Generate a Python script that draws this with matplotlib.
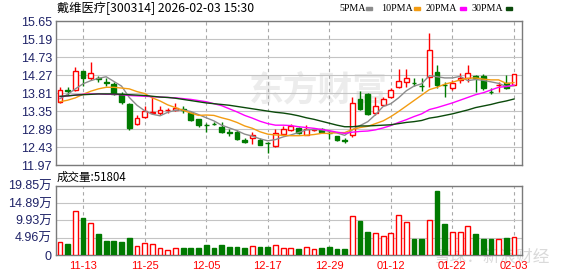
import matplotlib

matplotlib.use("Agg")

import matplotlib.pyplot as plt
import numpy as np

plt.rcParams["font.family"] = ["Noto Sans CJK SC", "DejaVu Sans"]

TITLE = "戴维医疗[300314] 2026-02-03 15:30"

dates = [
    "11-10", "11-11", "11-12", "11-13", "11-14", "11-17", "11-18", "11-19", "11-20", "11-21",
    "11-24", "11-25", "11-26", "11-27", "11-28", "12-01", "12-02", "12-03", "12-04", "12-05",
    "12-08", "12-09", "12-10", "12-11", "12-12", "12-15", "12-16", "12-17", "12-18", "12-19",
    "12-22", "12-23", "12-24", "12-25", "12-26", "12-29", "12-30", "12-31", "01-05", "01-06",
    "01-07", "01-08", "01-09", "01-12", "01-13", "01-14", "01-15", "01-16", "01-19", "01-20",
    "01-21", "01-22", "01-23", "01-26", "01-27", "01-28", "01-29", "01-30", "02-02", "02-03",
]

opens = [
    13.59, 13.88, 13.89, 14.37, 14.19, 14.19, 14.09, 14.04, 13.78, 13.54,
    13.01, 13.21, 13.31, 13.31, 13.37, 13.37, 13.40, 13.30, 13.14, 13.00,
    13.02, 12.95, 12.81, 12.82, 12.62, 12.66, 12.62, 12.54, 12.45, 12.76,
    12.86, 12.91, 12.75, 12.87, 12.90, 12.79, 12.71, 12.60, 12.73, 13.65,
    13.80, 13.29, 13.50, 13.70, 13.97, 14.10, 14.07, 14.00, 14.23, 14.36,
    14.03, 13.93, 14.14, 14.20, 14.26, 14.25, 13.85, 14.01, 14.06, 14.03,
]
highs = [
    13.96, 13.96, 14.47, 14.37, 14.60, 14.25, 14.19, 14.10, 13.83, 13.57,
    13.25, 13.47, 13.72, 13.48, 13.42, 13.57, 13.48, 13.33, 13.15, 13.05,
    13.06, 13.06, 12.88, 12.86, 12.65, 12.82, 12.66, 12.56, 12.89, 12.98,
    13.03, 12.94, 12.99, 12.92, 12.93, 12.85, 12.72, 12.65, 13.72, 13.86,
    13.81, 13.72, 13.72, 13.93, 14.44, 14.42, 14.21, 14.20, 15.36, 14.53,
    14.09, 14.14, 14.32, 14.53, 14.27, 14.30, 13.93, 14.10, 14.27, 14.29,
]
lows = [
    13.56, 13.76, 13.86, 14.00, 14.15, 14.10, 14.00, 13.76, 13.52, 12.86,
    12.99, 13.17, 13.30, 13.25, 13.31, 13.36, 13.29, 13.10, 12.95, 12.82,
    12.99, 12.80, 12.71, 12.60, 12.54, 12.52, 12.48, 12.28, 12.43, 12.74,
    12.84, 12.77, 12.73, 12.85, 12.78, 12.63, 12.59, 12.54, 12.69, 13.37,
    13.25, 13.25, 13.49, 13.68, 13.95, 13.97, 14.00, 13.87, 13.97, 13.93,
    13.72, 13.89, 14.08, 14.10, 13.84, 13.90, 13.80, 13.84, 13.92, 14.01,
]
closes = [
    13.89, 13.87, 14.37, 14.21, 14.32, 14.17, 14.07, 13.78, 13.59, 12.91,
    13.17, 13.36, 13.32, 13.37, 13.38, 13.42, 13.39, 13.13, 12.99, 12.99,
    13.01, 12.82, 12.80, 12.63, 12.55, 12.75, 12.49, 12.53, 12.80, 12.90,
    12.97, 12.79, 12.88, 12.88, 12.82, 12.78, 12.60, 12.59, 13.55, 13.40,
    13.27, 13.48, 13.67, 13.89, 14.13, 14.19, 14.06, 13.99, 14.91, 14.02,
    14.02, 14.06, 14.21, 14.32, 14.20, 13.93, 13.84, 14.02, 13.93, 14.29,
]
volumes = [
    38100, 31500, 126000, 107000, 92600, 60200, 41100, 41100, 38100, 49700,
    25800, 35300, 31500, 19100, 14300, 19100, 21000, 21000, 21000, 28600,
    19100, 28600, 22900, 22900, 20000, 25800, 22900, 22900, 27700, 20000,
    19100, 17200, 22000, 16200, 20000, 22900, 17200, 17200, 112000, 97400,
    65900, 63000, 54400, 63000, 114600, 94500, 45800, 45800, 100000, 183000,
    88800, 65900, 65900, 83100, 60200, 45800, 45800, 45800, 48700, 51804,
]

ma5 = [
    13.67, 13.78, 13.92, 14.05, 14.13, 14.19, 14.23, 14.11, 13.99, 13.70,
    13.50, 13.36, 13.27, 13.23, 13.32, 13.37, 13.38, 13.34, 13.26, 13.18,
    13.10, 12.99, 12.92, 12.85, 12.76, 12.71, 12.64, 12.59, 12.62, 12.69,
    12.74, 12.80, 12.87, 12.88, 12.87, 12.83, 12.79, 12.73, 12.87, 12.98,
    13.08, 13.26, 13.47, 13.54, 13.69, 13.87, 13.99, 14.05, 14.26, 14.23,
    14.20, 14.20, 14.24, 14.13, 14.16, 14.14, 14.10, 14.06, 13.98, 14.00,
]
ma10 = [
    13.59, 13.63, 13.69, 13.78, 13.86, 13.92, 13.96, 13.96, 13.94, 13.92,
    13.85, 13.80, 13.69, 13.61, 13.51, 13.44, 13.37, 13.30, 13.24, 13.25,
    13.24, 13.18, 13.13, 13.06, 12.97, 12.91, 12.82, 12.76, 12.74, 12.73,
    12.72, 12.72, 12.73, 12.75, 12.78, 12.78, 12.80, 12.80, 12.88, 12.93,
    12.96, 13.03, 13.10, 13.21, 13.34, 13.48, 13.62, 13.76, 13.90, 13.96,
    14.04, 14.09, 14.15, 14.19, 14.20, 14.17, 14.15, 14.15, 14.06, 14.08,
]
ma20 = [
    13.72, 13.74, 13.76, 13.78, 13.79, 13.79, 13.78, 13.78, 13.77, 13.75,
    13.74, 13.73, 13.72, 13.71, 13.70, 13.69, 13.67, 13.65, 13.62, 13.59,
    13.54, 13.49, 13.41, 13.33, 13.24, 13.17, 13.09, 13.03, 12.99, 12.99,
    12.98, 12.95, 12.93, 12.91, 12.88, 12.85, 12.81, 12.78, 12.81, 12.83,
    12.84, 12.87, 12.92, 12.98, 13.06, 13.13, 13.21, 13.28, 13.39, 13.44,
    13.50, 13.56, 13.63, 13.70, 13.77, 13.82, 13.89, 13.96, 13.98, 14.02,
]
ma30 = [
    13.73, 13.74, 13.76, 13.77, 13.78, 13.79, 13.79, 13.79, 13.78, 13.77,
    13.76, 13.75, 13.73, 13.71, 13.70, 13.68, 13.65, 13.62, 13.59, 13.56,
    13.54, 13.52, 13.50, 13.47, 13.44, 13.41, 13.38, 13.35, 13.32, 13.30,
    13.27, 13.23, 13.18, 13.14, 13.09, 13.04, 12.99, 12.95, 12.95, 12.97,
    12.97, 12.98, 12.99, 13.00, 13.03, 13.06, 13.08, 13.11, 13.17, 13.20,
    13.24, 13.28, 13.33, 13.38, 13.44, 13.48, 13.52, 13.57, 13.61, 13.66,
]

price_ticks = [11.97, 12.43, 12.89, 13.35, 13.81, 14.27, 14.73, 15.19, 15.65]
vol_ticks = [0, 49600, 99300, 148900, 198500]
vol_tick_labels = ["0", "4.96万", "9.93万", "14.89万", "19.85万"]
date_labels = ["11-13", "11-25", "12-05", "12-17", "12-29", "01-12", "01-22", "02-03"]

ma_names = ["5PMA", "10PMA", "20PMA", "30PMA"]
ma_colors = ["#8c8c8c", "#f39c12", "#ff00ff", "#0b4a0b"]

RED = "#ff0000"
GREEN = "#007a00"
NAVY = "#1f2368"
FRAME = "#7a7a7a"
GRID = "#c4c4c4"

W, H = 578, 276


def fx(px):
    return px / W


def fy(py):
    return 1 - py / H


def style_axis(ax):
    for spine in ax.spines.values():
        spine.set_color(FRAME)
        spine.set_linewidth(1.0)
    ax.tick_params(length=0, labelsize=9, labelcolor=NAVY, pad=2.7)
    ax.grid(axis="y", color=GRID, linewidth=0.8)
    ax.grid(axis="x", color="#a8a8a8", linewidth=0.8, linestyle=(0, (3, 3)))
    ax.set_axisbelow(True)
    for lab in ax.get_yticklabels():
        lab.set_family(["Liberation Sans", "Noto Sans CJK SC"])


fig = plt.figure(figsize=(W / 100, H / 100), dpi=100)
fig.patch.set_facecolor("white")

# watermark sits under everything else
fig.text(fx(492), fy(257), "雪球：新浪财经", fontsize=12, color="#dadada",
         ha="center", va="center", zorder=-1)

left, right = 55.7, 522.3
ax = fig.add_axes([fx(left), fy(165), fx(right - left), (165 - 21.3) / H])
axv = fig.add_axes([fx(left), fy(255), fx(right - left), (255 - 185.7) / H])
axv.patch.set_alpha(0)

x = np.arange(len(dates))
o = np.array(opens)
h = np.array(highs)
lo = np.array(lows)
c = np.array(closes)
up = c >= o
body_lo = np.minimum(o, c)
body_hi = np.maximum(o, c)
body_h = np.maximum(body_hi - body_lo, 0.003)
edge = np.where(up, RED, GREEN)
face = np.where(up, "white", GREEN)

ax.vlines(x, body_hi, h, colors=edge, linewidth=1, zorder=3)
ax.vlines(x, lo, body_lo, colors=edge, linewidth=1, zorder=3)
ax.bar(x, body_h, bottom=body_lo, width=0.62, color=face, edgecolor=edge,
       linewidth=1, zorder=3)

for values, color in zip([ma5, ma10, ma20, ma30], ma_colors):
    ax.plot(x, values, color=color, linewidth=1, zorder=4)

tick_idx = [dates.index(d) for d in date_labels]
ax.set_xlim(-0.56, 60.08)
ax.set_ylim(price_ticks[0], price_ticks[-1])
ax.set_yticks(price_ticks)
ax.set_yticklabels([f"{t:.2f}" for t in price_ticks])
ax.set_xticks(tick_idx)
ax.set_xticklabels([])
style_axis(ax)

ax.text(fx(318), fy(90), "东方财富", transform=fig.transFigure, fontsize=25,
        fontweight="bold", color="#ececec", ha="center", va="center", zorder=0.5)

axv.bar(x, volumes, width=0.62, color=face, edgecolor=edge, linewidth=1, zorder=3)
axv.set_xlim(-0.56, 60.08)
axv.set_ylim(vol_ticks[0], vol_ticks[-1])
axv.set_yticks(vol_ticks)
axv.set_yticklabels(vol_tick_labels)
axv.set_xticks(tick_idx)
axv.set_xticklabels(date_labels)
style_axis(axv)
axv.tick_params(axis="x", labelcolor=RED, labelsize=8, pad=4)
for lab in axv.get_xticklabels():
    lab.set_family(["Liberation Sans", "DejaVu Sans"])

fig.text(fx(57), fy(8), TITLE, fontsize=8.8, color="black", ha="left", va="center")
fig.text(fx(57), fy(177), f"成交量:{volumes[-1]}", fontsize=8.3, color="black",
         ha="left", va="center")

label_x = [339, 381, 426, 472]
square_x = [366, 414, 460, 506]
for name, color, lx, sx in zip(ma_names, ma_colors, label_x, square_x):
    fig.text(fx(lx), fy(8.5), name, fontsize=7.2, family="Liberation Serif",
             color="black", ha="left", va="center")
    fig.patches.append(plt.Rectangle((fx(sx), fy(10)), fx(6), 3 / H, color=color,
                                     transform=fig.transFigure, figure=fig))

fig.savefig("out.png", dpi=100)
